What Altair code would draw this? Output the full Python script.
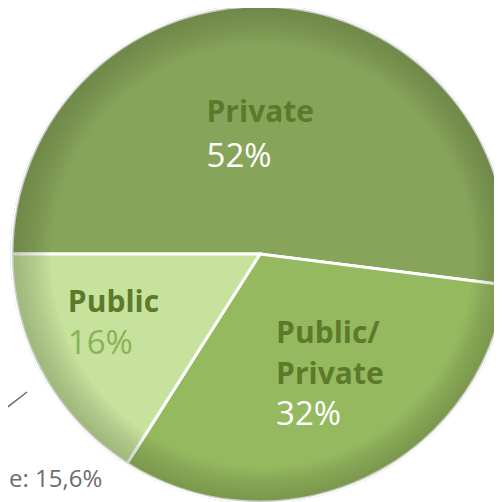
import math
import altair as alt
import pandas as pd

# ---- data ----
categories = ["Private", "Public/Private", "Public"]
values = [52, 32, 16]
name_lines = [["Private"], ["Public/", "Private"], ["Public"]]
slice_colors = ["#87A55A", "#95B95F", "#C6E29C"]
pct_colors = ["#FFFFFF", "#FFFFFF", "#8AB257"]
annotation_text = ["e: 15,6%"]

df = pd.DataFrame({
    "cat": categories,
    "value": values,
    "idx": list(range(len(categories))),
})

CX, CY, R = 252, 246, 248
FONT = "Open Sans"
theta_scale = alt.Scale(domain=[0, sum(values)], range=[-math.pi / 2, 3 * math.pi / 2])

base = alt.Chart(df).encode(
    theta=alt.Theta("value:Q", stack=True, scale=theta_scale),
    order=alt.Order("idx:Q"),
    x=alt.value(CX),
    y=alt.value(CY),
)

# outer light grey rim
rim = alt.Chart(df).mark_arc(
    theta=0, theta2=2 * math.pi, radius=R + 1.5, fill="#D6D6D6"
).encode(x=alt.value(CX), y=alt.value(CY))

pie = base.mark_arc(radius=R, stroke="white", strokeWidth=3).encode(
    color=alt.Color("cat:N", scale=alt.Scale(domain=categories, range=slice_colors), legend=None)
)

shade = alt.Chart(df).mark_arc(
    theta=0, theta2=2 * math.pi, radius=R,
    fill={
        "gradient": "radial",
        "x1": 0.53, "y1": 0.53, "r1": 0.0,
        "x2": 0.5, "y2": 0.5, "r2": 0.5,
        "stops": [
            {"offset": 0.0, "color": "rgba(0,0,0,0)"},
            {"offset": 0.85, "color": "rgba(0,0,0,0)"},
            {"offset": 1.0, "color": "rgba(40,50,20,0.09)"},
        ],
    },
).encode(x=alt.value(CX), y=alt.value(CY))

# label layout per category: (dx, dy of first line, line step)
label_layout = {
    "Private": (-61, -12, 45),
    "Public/Private": (-35, -20, 41),
    "Public": (-87, 0, 42),
}

label_layers = []
for cat, lines, pcol, val in zip(categories, name_lines, pct_colors, values):
    dx, dy0, step = label_layout[cat]
    texts = [(ln, "#5C7A2A", "bold", 30) for ln in lines] + [(f"{val}%", pcol, "normal", 33)]
    for i, (t, col, w, fs) in enumerate(texts):
        label_layers.append(
            base.mark_text(
                radius=120, align="left", baseline="alphabetic",
                dx=dx, dy=dy0 + i * step, font=FONT, fontSize=fs,
                fontWeight=w, color=col,
            ).encode(
                text=alt.condition(f"datum.cat == '{cat}'", alt.value(t), alt.value(""))
            )
        )

ann_df = pd.DataFrame({"t": annotation_text})
leader = alt.Chart(ann_df).mark_rule(color="#6A6A6A", strokeWidth=1.5).encode(
    x=alt.value(-8), y=alt.value(405), x2=alt.value(19), y2=alt.value(384)
)
ann = alt.Chart(ann_df).mark_text(
    align="left", baseline="alphabetic", font=FONT, fontSize=24, color="#6D6D6D"
).encode(text="t:N", x=alt.value(1), y=alt.value(479))

chart = alt.layer(rim, pie, shade, *label_layers, leader, ann).properties(
    width=486, height=494, padding=0, autosize=alt.AutoSizeParams(type="none")
).configure_view(stroke=None)

chart.save("out.html", embed_options={"renderer": "svg", "actions": False})
